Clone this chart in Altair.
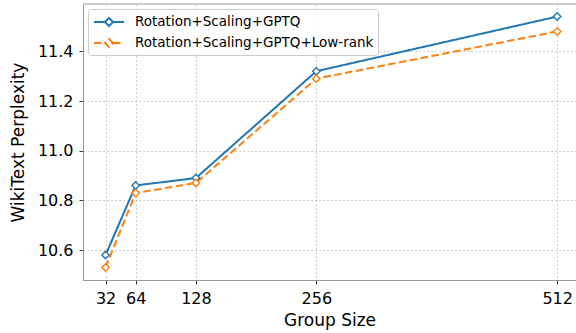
import altair as alt
import pandas as pd

group_sizes = [32, 64, 128, 256, 512]
series_names = ["Rotation+Scaling+GPTQ", "Rotation+Scaling+GPTQ+Low-rank"]
ppl_base = [10.58, 10.86, 10.89, 11.32, 11.54]
ppl_lowrank = [10.53, 10.83, 10.87, 11.29, 11.48]
colors = ["#1f77b4", "#ff7f0e"]
dashes = [[1, 0], [7.5, 3.5]]

rows = []
for name, vals in zip(series_names, [ppl_base, ppl_lowrank]):
    for g, v in zip(group_sizes, vals):
        rows.append({"Group Size": g, "Perplexity": v, "Method": name})
df = pd.DataFrame(rows)

FONT = "DejaVu Sans"
W, H = 493, 276
LEG_FS = 13.5

# symbol size 256 -> unit = 8px; line spans +-15px, diamond +-4px
sym_path = "M-1.875,0L-0.5,0M0.5,0L1.875,0M0,-0.5L0.5,0L0,0.5L-0.5,0Z"

legend = alt.Legend(
    title=None, orient="none", legendX=5, legendY=5,
    symbolType=sym_path, symbolSize=256, symbolStrokeWidth=2,
    symbolFillColor="white", symbolOffset=8,
    labelFont=FONT, labelFontSize=LEG_FS, labelColor="black", labelOffset=17,
    labelLimit=400,
    padding=4, rowPadding=4,
    fillColor="rgba(255,255,255,0.8)", strokeColor="#cccccc", cornerRadius=3,
)

x = alt.X("Group Size:Q", scale=alt.Scale(domain=[8, 532], nice=False, zero=False),
          axis=alt.Axis(values=group_sizes, title="Group Size", format="d"))
y = alt.Y("Perplexity:Q", scale=alt.Scale(domain=[10.4795, 11.5905], nice=False, zero=False),
          axis=alt.Axis(values=[10.6, 10.8, 11.0, 11.2, 11.4], format=".1f",
                        title="WikiText Perplexity"))
color = alt.Color("Method:N", scale=alt.Scale(domain=series_names, range=colors), legend=legend)
dash = alt.StrokeDash("Method:N", scale=alt.Scale(domain=series_names, range=dashes), legend=legend)

base = alt.Chart(df)
lines = base.mark_line(strokeWidth=2).encode(x=x, y=y, color=color, strokeDash=dash)
points = base.mark_point(shape="diamond", filled=False, fill="white", fillOpacity=1,
                         size=55, strokeWidth=1.4, opacity=1).encode(x=x, y=y, color=color)

top = alt.Chart(pd.DataFrame({"a": [0]})).mark_rule(color="#999999", strokeWidth=1).encode(
    x=alt.value(0), x2=alt.value(W), y=alt.value(0))

chart = alt.layer(lines, points, top).properties(
    width=W, height=H,
    autosize=alt.AutoSizeParams(type="none"),
    padding={"left": 83, "top": 4, "right": 0, "bottom": 53},
).configure(font=FONT).configure_view(stroke=None).configure_axis(
    labelFont=FONT, titleFont=FONT, labelFontSize=16, titleFontSize=17,
    labelColor="black", titleColor="black", titleFontWeight="normal",
    grid=True, gridColor="#b0b0b0", gridDash=[1.5, 2.5], gridWidth=1, gridOpacity=0.8,
    domainColor="#999999", domainWidth=1, tickColor="#333333", tickSize=4,
    labelPadding=6,
).configure_axisX(titlePadding=6).configure_axisY(titlePadding=10).configure_legend(
    labelFont=FONT, labelFontSize=LEG_FS, labelLimit=400, labelColor="black",
)

chart.save("out.html", embed_options={"renderer": "svg", "actions": False})
